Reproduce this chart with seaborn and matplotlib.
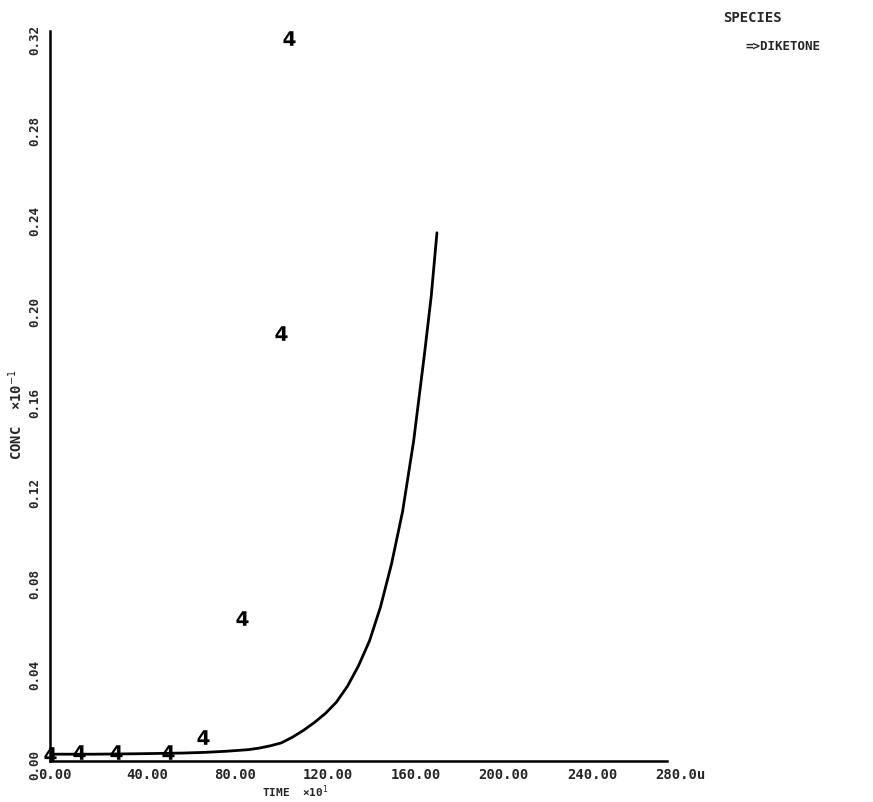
import numpy as np
import pandas as pd
import matplotlib
matplotlib.use("Agg")
import matplotlib.pyplot as plt
import matplotlib.transforms as mtransforms
import seaborn as sns

sns.set_style("white")
plt.rcParams['font.family'] = ['DejaVu Sans Mono', 'DejaVu Sans']

# measured points (plotted as "4")
obs_time = [0, 13, 30, 53.5, 69.5, 87, 104.8, 108.4]
obs_conc = [0.001, 0.002, 0.002, 0.002, 0.0084, 0.061, 0.187, 0.317]

# model curve
fit_time = [0, 20, 40, 60, 70, 80, 90, 95, 100, 105, 110, 115, 120, 125, 130,
            135, 140, 145, 150, 155, 160, 165, 170, 173, 175.6]
fit_conc = [0.001, 0.001, 0.0012, 0.0015, 0.0018, 0.0023, 0.003, 0.0037, 0.0047,
            0.006, 0.0085, 0.0115, 0.015, 0.019, 0.024, 0.031, 0.040, 0.051,
            0.066, 0.085, 0.108, 0.139, 0.178, 0.203, 0.231]

x_ticks = [0, 40, 80, 120, 160, 200, 240, 280]
x_labels = ['0.00', '40.00', '80.00', '120.00', '160.00', '200.00', '240.00', '280.0u']
y_ticks = [0.00, 0.04, 0.08, 0.12, 0.16, 0.20, 0.24, 0.28, 0.32]
y_labels = ['0.00', '0.04', '0.08', '0.12', '0.16', '0.20', '0.24', '0.28', '0.32']

obs = pd.DataFrame({'time': obs_time, 'conc': obs_conc})
fit = pd.DataFrame({'time': fit_time, 'conc': fit_conc})

fig = plt.figure(figsize=(8.73, 8.03), dpi=100)
ax = fig.add_axes([50 / 873, 1 - 762 / 803, 617 / 873, 730 / 803])

sns.lineplot(data=fit, x='time', y='conc', ax=ax, color='black', linewidth=2.0)
sns.scatterplot(data=obs, x='time', y='conc', ax=ax, color='black',
                marker='$\\mathbf{4}$', s=110, linewidth=0, zorder=5, clip_on=False)

ax.set_xlim(0, 280)
ax.set_ylim(-0.002, 0.32)
sns.despine(ax=ax)
for side in ['left', 'bottom']:
    ax.spines[side].set_linewidth(1.8)
    ax.spines[side].set_color('black')

ax.set_xticks(x_ticks)
ax.set_xticklabels(x_labels, fontsize=10, fontweight='bold', ha='left')
ax.set_yticks(y_ticks)
ax.set_yticklabels(y_labels, fontsize=9, fontweight='bold', rotation=90, va='center')
ax.tick_params(axis='both', direction='inout', length=5, width=1.5, color='black')
ax.tick_params(axis='x', pad=2)
ax.tick_params(axis='y', pad=4)

dx = mtransforms.ScaledTranslation(-12 / 100, 0, fig.dpi_scale_trans)
for lab in ax.get_xticklabels():
    lab.set_transform(lab.get_transform() + dx)
dy = mtransforms.ScaledTranslation(0, -8 / 100, fig.dpi_scale_trans)
for lab in ax.get_yticklabels():
    lab.set_transform(lab.get_transform() + dy)

ax.set_xlabel('')
ax.set_ylabel('')
fig.text(295 / 873, 1 - 792 / 803, 'TIME  \u00d710$^1$', fontsize=8, fontweight='bold',
         ha='center', va='center')
fig.text(16 / 873, 1 - 415 / 803, 'CONC  \u00d710$^{-1}$', fontsize=10, fontweight='bold',
         rotation=90, ha='center', va='center')

fig.text(723 / 873, 1 - 18 / 803, 'SPECIES', fontsize=10, fontweight='bold',
         ha='left', va='center')
fig.text(745 / 873, 1 - 47 / 803, '=>DIKETONE', fontsize=9, fontweight='bold',
         ha='left', va='center')

fig.savefig('out.png', dpi=100)
